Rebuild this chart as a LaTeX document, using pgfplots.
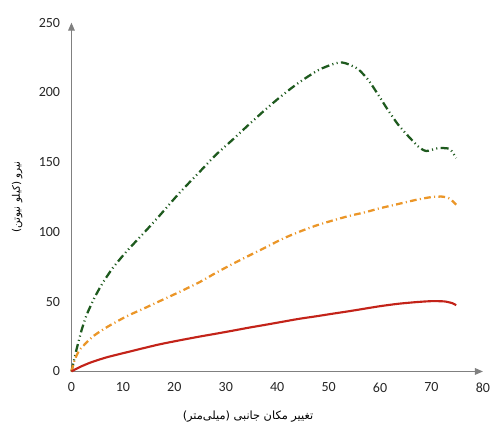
\documentclass[border=0pt]{standalone}
\usepackage{fontspec}
\usepackage{pgfplots}
\pgfplotsset{compat=1.18}
\usetikzlibrary{arrows.meta}
\setmainfont{Carlito}
\newfontfamily\arabicfont[Script=Arabic]{DejaVu Sans}
\TeXXeTstate=1
\definecolor{axgray}{RGB}{128,128,128}
\definecolor{cgreen}{RGB}{30,90,30}
\definecolor{corange}{RGB}{235,150,40}
\definecolor{cred}{RGB}{195,35,25}
\begin{document}
\begin{tikzpicture}
\useasboundingbox (0,0) rectangle (367.5pt,321pt);
\begin{axis}[
  at={(53.6pt,42.4pt)}, anchor=south west,
  scale only axis, width=308.6pt, height=261.6pt,
  xmin=0, xmax=80, ymin=0, ymax=250,
  axis lines=left,
  axis line style={axgray, line width=0.8pt, -{Triangle[length=6pt,width=5pt]}},
  xtick={0,10,...,80}, ytick={0,50,...,250},
  major tick length=0pt,
  tick label style={font=\fontsize{10.5}{12}\selectfont, text=black!85},
  /pgf/number format/assume math mode=true,
  xticklabel style={yshift=-5pt},
  yticklabel style={xshift=-5pt},
  xlabel={\arabicfont\beginR تغییر مکان جانبی (میلی‌متر)\endR},
  xlabel style={at={(axis description cs:0.429,-0.13)}, anchor=center, font=\fontsize{8.5}{10}\selectfont},
  ylabel={\arabicfont\beginR نیرو (کیلو نیوتن)\endR},
  ylabel style={at={(axis description cs:-0.132,0.5)}, anchor=center, font=\fontsize{7.8}{9}\selectfont},
  clip=false,
]
\addplot[cgreen, line width=1.7pt, smooth, tension=0.4,
  dash pattern=on 6pt off 2.5pt on 0.8pt off 2.5pt on 0.8pt off 2.5pt] coordinates {
(0,0) (0.5,8) (1,16) (2,30) (3,41) (4.5,53) (6,63) (8,74) (10.7,86)
(14,99) (17.2,112) (21,128) (24.9,143) (28,155) (31.3,166) (34.5,177) (37.8,188) (41,198) (44.2,207) (48,216) (51,220.5)
(52.5,221.5) (54,220) (55.8,216.5) (57.7,209) (59.7,198) (61.6,187) (63.5,177) (65.4,169)
(67.5,161) (69,158) (71.2,160) (73.5,159.5) (74.8,153)
};
\addplot[corange, line width=1.7pt, smooth, tension=0.4,
  dash pattern=on 5pt off 2.5pt on 0.8pt off 2.5pt] coordinates {
(0,0) (0.6,8) (1.5,15) (3,21) (4.5,26) (7,32) (10.7,39.5) (14,45) (17.2,50.5) (21,57) (24.9,64) (28,70.5) (31.3,77) (34.5,83) (37.8,89)
(41,95) (44.2,100) (47.5,104.5) (50.6,108) (54,111.5) (57,114) (60,117) (63.5,120) (67,123) (70,125) (72.2,125.3) (73.5,124) (74.8,119.5)
};
\addplot[cred, line width=1.6pt, smooth, tension=0.4] coordinates {
(0,0) (1,2) (2,3.8) (4,6.8) (7,10.3) (10.7,13.7) (14,16.7) (17.2,19.5) (21,22.3) (24.9,25) (28,27) (31.3,29.2) (34.5,31.4) (37.8,33.5)
(41,35.6) (44.2,37.7) (47.5,39.5) (50.6,41.3) (54,43.2) (57,45) (60,46.8) (63.5,48.5) (67,49.7) (70,50.4) (72.5,50.2) (74,49) (74.8,47.5)
};
\end{axis}
\end{tikzpicture}
\end{document}
